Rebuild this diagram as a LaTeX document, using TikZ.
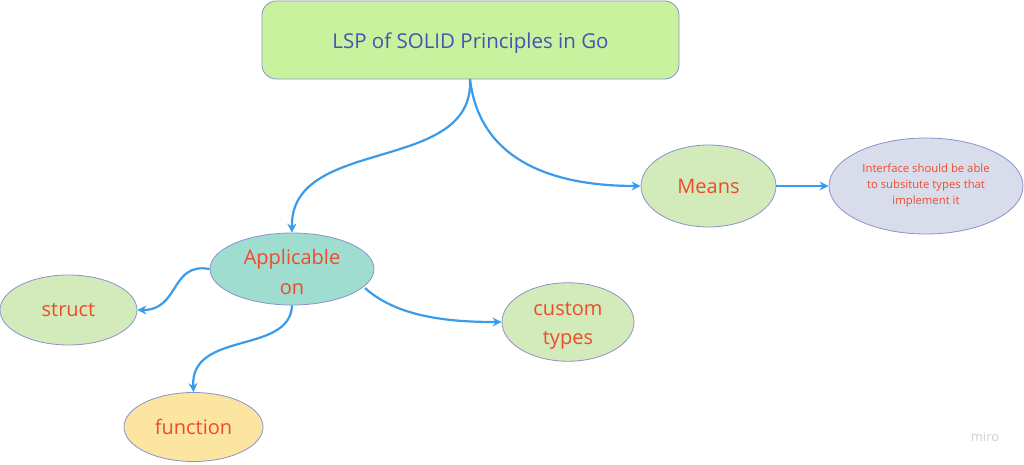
\documentclass[tikz,border=0pt]{standalone}
\usepackage{fontspec}
\setmainfont{Open Sans}
\usetikzlibrary{arrows.meta,shapes.geometric}
\definecolor{edge}{HTML}{3A9BEA}
\definecolor{outl}{HTML}{8A92CC}
\definecolor{txtred}{HTML}{EE4B2B}
\definecolor{titletxt}{HTML}{4653B3}
\definecolor{fgreen}{HTML}{C8F29D}
\definecolor{flgreen}{HTML}{D3EBBA}
\definecolor{fteal}{HTML}{A0DDD1}
\definecolor{flav}{HTML}{D9DDEB}
\definecolor{fyellow}{HTML}{FCE5A0}
\definecolor{mirogray}{HTML}{CFCFD8}
\tikzset{
  x=1pt, y=-1pt,
  ell/.style={ellipse, draw=outl, line width=0.8pt, inner sep=0pt, text=txtred, font=\fontsize{20}{29.5}\selectfont, align=center},
  conn/.style={draw=edge, line width=2.2pt, -{Stealth[length=9pt,width=9pt]}},
}
\begin{document}
\begin{tikzpicture}
\useasboundingbox (0,0) rectangle (1024,465);
\node[draw=outl, fill=fgreen, rounded corners=14pt, line width=0.8pt, minimum width=417pt, minimum height=78pt, inner sep=0pt, text=titletxt, font=\fontsize{20.5}{25}\selectfont] (title) at (470.5,40) {\rule{0pt}{21.6pt}LSP of SOLID Principles in Go};
\node[ell, fill=flgreen, minimum width=135pt, minimum height=82pt] (means) at (708.5,186) {Means};
\node[ell, fill=flav, minimum width=194pt, minimum height=96pt, font=\fontsize{11.3}{16}\selectfont] (iface) at (926,186) {Interface should be able\\to subsitute types that\\implement it};
\node[ell, fill=fteal, minimum width=164pt, minimum height=72pt] (appl) at (292,269) {\rule{0pt}{21.2pt}Applicable\\on};
\node[ell, fill=flgreen, minimum width=137pt, minimum height=70pt] (struct) at (68.5,310) {struct};
\node[ell, fill=flgreen, minimum width=132pt, minimum height=72pt] (custom) at (568,322) {\rule{0pt}{21.2pt}custom\\types};
\node[ell, fill=fyellow, minimum width=139pt, minimum height=69pt] (func) at (193.5,427) {function};
\node[text=mirogray, font=\fontsize{13}{14}\selectfont] (miro) at (985,437) {miro};
\coordinate (tb) at (470,79);
\draw[conn] (tb) .. controls (475,175) and (290,135) .. (appl.north);
\draw[conn] (tb) .. controls (480,165) and (560,186) .. (means.west);
\draw[conn] (means.east) -- (iface.west);
\draw[conn] (appl.west) .. controls (170,262) and (180,310) .. (struct.east);
\draw[conn] (appl.south) .. controls (290,355) and (190,330) .. (func.north);
\coordinate (ar) at (365,288);
\draw[conn] (ar) .. controls (400,320) and (460,322) .. (custom.west);
\end{tikzpicture}
\end{document}
